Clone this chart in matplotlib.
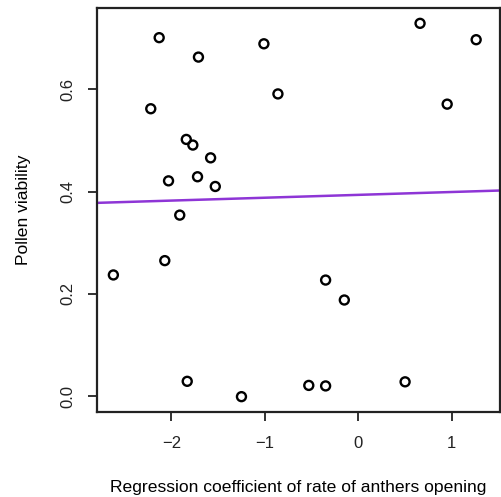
import numpy as np
import matplotlib
matplotlib.use("Agg")
import matplotlib.pyplot as plt

plt.rcParams['font.family'] = ['Liberation Sans', 'DejaVu Sans']

# regression coefficient of anther opening rate vs pollen viability
anther_coef = [-2.62, -2.07, -2.22, -2.13, -1.71, -1.84, -1.77, -1.58,
               -2.03, -1.72, -1.53, -1.91, -1.83, -1.25, -1.01, -0.86,
               -0.35, -0.15, -0.53, -0.35, 0.50, 0.66, 0.95, 1.26]
viability = [0.237, 0.265, 0.562, 0.701, 0.663, 0.502, 0.491, 0.466,
             0.421, 0.429, 0.410, 0.354, 0.029, -0.001, 0.689, 0.591,
             0.227, 0.188, 0.021, 0.020, 0.028, 0.729, 0.571, 0.697]

# fitted line
fit_intercept = 0.3936
fit_slope = 0.0056

x_ticks = [-2, -1, 0, 1]
y_ticks = [0.0, 0.2, 0.4, 0.6]

fig = plt.figure(figsize=(5.01, 4.97), dpi=100)
ax = fig.add_axes([97 / 501, 1 - 412 / 497, 403 / 501, 404 / 497])

ax.scatter(anther_coef, viability, s=42, facecolors='none',
           edgecolors='black', linewidths=1.7, zorder=3)

xlim = (-2.795, 1.515)
xs = np.array(xlim)
ax.plot(xs, fit_intercept + fit_slope * xs, color='#8E35D6', lw=1.8)

ax.set_xlim(*xlim)
ax.set_ylim(-0.031, 0.759)
ax.set_xticks(x_ticks)
ax.set_xticklabels(['\u22122', '\u22121', '0', '1'])
ax.set_yticks(y_ticks)
ax.set_yticklabels(['0.0', '0.2', '0.4', '0.6'], rotation=90, va='center')

for s in ax.spines.values():
    s.set_linewidth(1.6)
    s.set_color('#222222')
ax.tick_params(direction='out', length=6.5, width=1.3, labelsize=12,
               colors='#222222')
ax.tick_params(axis='x', pad=11)
ax.tick_params(axis='y', pad=9)

ax.set_xlabel('Regression coefficient of rate of anthers opening',
              fontsize=12.6, labelpad=21)
ax.set_ylabel('Pollen viability', fontsize=12.6, labelpad=21)

fig.savefig('out.png', dpi=100)
